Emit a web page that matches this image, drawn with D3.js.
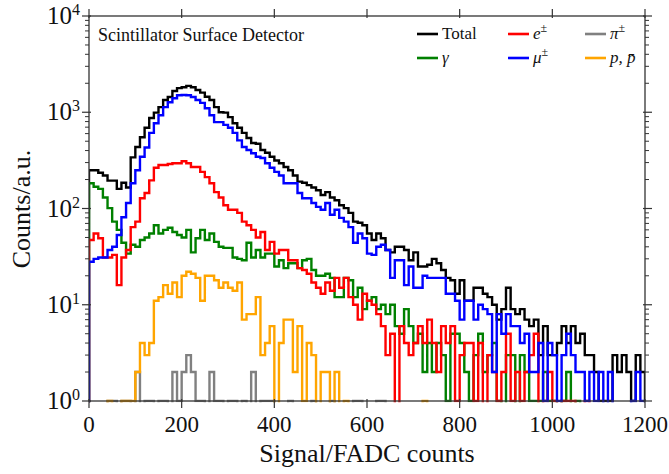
<!DOCTYPE html>
<html><head><meta charset="utf-8">
<script src="https://cdn.jsdelivr.net/npm/d3@7"></script>
<style>
body{margin:0;background:#fff}
svg{display:block}
text{font-family:"Liberation Serif","DejaVu Serif",serif;fill:#111}
</style>
</head><body>
<svg id="chart" width="669" height="474"></svg>
<script>
// ---------------- data ----------------
const binWidth = 10;           // FADC counts per bin
const binStart = 0;
const xTickValues = [0, 200, 400, 600, 800, 1000, 1200];
const yTickExponents = [0, 1, 2, 3, 4];
const titleText = "Scintillator Surface Detector";
const xLabel = "Signal/FADC counts";
const yLabel = "Counts/a.u.";

const total = [250,250,235,220,195,195,160,185,165,340,
  435,550,690,870,990,1130,1340,1440,1660,1780,
  1820,1880,1820,1700,1600,1450,1340,1130,1000,990,
  890,770,690,610,540,480,470,405,380,345,
  315,295,270,250,220,190,185,175,165,155,
  138,148,130,122,108,101,90,73,71,67,
  55,47,55,49,37,35,40,40,37,29,
  35,25,25,26,30,27,23,19,18,13,
  18,11,11,15,15,13,12,10,7,9,
  15,9,8,9,7,6,7,3,6,3,
  3,4,6,4,6,4,5,3,3,2,
  1,1,1,3,2,3,2,1,3,2];

const gamma = [183,168,160,130,101,73,60,44,34,42,
  40,47,50,55,67,55,60,63,57,53,
  50,60,35,49,60,47,55,45,40,39,
  39,31,30,29,44,31,37,31,34,34,
  25,29,24,27,27,24,29,30,23,20,
  20,21,19,12,12,19,18,12,15,9,
  11,12,9,10,8,10,6,5,9,6,
  4,5,2,4,2,4,3,1,5,5,
  4,2,1,3,5,2,3,4,1,0,
  3,3,0,3,2,1,1,1,2,1,
  1,0,1,2,0,1,0,0,0,0,
  0,0,0,0,0,0,0,0,0,0];

const electron = [47,55,49,31,31,33,16,31,37,64,
  73,128,145,196,265,283,283,290,295,295,
  310,295,270,270,240,212,183,148,130,108,
  97,97,90,73,67,60,50,57,37,45,
  34,37,37,29,29,24,23,21,17,15,
  13,17,14,19,15,19,12,10,7,13,
  11,10,8,6,3,5,0,6,4,3,
  4,6,4,7,4,2,6,4,6,1,
  3,4,4,1,4,0,3,2,1,2,
  5,1,2,1,2,3,5,0,1,2,
  1,0,1,1,1,0,0,1,0,0,
  0,0,0,0,0,0,0,0,0,0];

const muon = [28,30,31,31,37,40,53,81,114,183,
  250,345,430,610,770,930,1130,1270,1400,1500,
  1510,1500,1440,1340,1250,1100,930,790,790,740,
  690,610,510,435,405,375,345,335,295,265,
  240,220,183,183,183,145,128,128,114,104,
  97,114,86,97,80,73,64,44,55,49,
  34,33,40,42,37,19,29,29,16,25,
  15,15,20,19,19,19,19,13,13,11,
  7,11,11,7,10,9,8,2,8,5,
  8,6,6,4,5,2,2,4,1,4,
  3,1,3,5,3,2,2,1,2,1,
  2,0,2,0,0,0,0,1,2,1];

const pion = [0,0,0,0,1,1,0,1,1,0,
  2,0,1,1,0,1,1,0,2,1,
  2,3,2,1,1,0,2,1,1,0,
  1,1,0,1,0,2,0,1,1,1,
  0,0,0,1,0,0,0,0,1,0,
  0,0,1,0,0,0,0,1,1,0,
  0,0,1,1,0,0,0,0,0,0,
  0,0,0,0,0,0,0,0,0,0,
  0,0,0,0,0,0,0,0,0,0,
  0,0,0,0,0,0,0,0,0,0,
  0,0,0,0,0,0,0,0,0,0,
  0,0,0,0,0,0,0,0,0,0];

const proton = [0,0,0,0,1,0,0,1,1,1,
  2,4,3,4,11,12,16,13,17,12,
  20,22,21,19,11,20,20,18,15,17,
  15,14,17,7,8,8,12,3,4,6,
  0,4,7,7,2,6,1,4,3,0,
  2,2,0,2,0,1,0,0,0,0,
  0,0,0,0,0,0,0,0,0,0,
  0,0,1,0,0,0,0,0,0,0,
  0,0,0,0,0,0,0,0,0,0,
  0,0,0,0,0,0,0,0,0,0,
  0,0,0,0,0,0,0,0,0,0,
  0,0,0,0,0,0,0,0,0,0];

const seriesNames = ["Total", "γ", "e", "μ", "π", "p"];
const seriesColors = ["#000000", "#008000", "#ff0000", "#0000ff", "#808080", "#ffa500"];
const seriesData = [total, gamma, electron, muon, pion, proton];

// ---------------- layout ----------------
const svg = d3.select("#chart");
const L = 89, R = 645, T = 16, B = 401;
const x = d3.scaleLinear().domain([0, 1200]).range([L, R]);
const y = d3.scaleLog().domain([1, 1e4]).range([B, T]);
const axisColor = "#333";

svg.append("defs").append("clipPath").attr("id", "plotclip")
  .append("rect").attr("x", L).attr("y", T).attr("width", R - L).attr("height", B - T + 1.2);

const yPos = v => v > 0 ? y(v) : B + 30;

const line = d3.line()
  .x(d => x(d[0]))
  .y(d => yPos(d[1]))
  .curve(d3.curveStepAfter);

const plot = svg.append("g").attr("clip-path", "url(#plotclip)");
seriesData.forEach((arr, k) => {
  const pts = [[binStart, 0]];
  arr.forEach((v, i) => pts.push([binStart + i * binWidth, v]));
  pts.push([binStart + arr.length * binWidth, arr[arr.length - 1]]);
  pts.push([binStart + arr.length * binWidth, 0]);
  plot.append("path")
    .attr("d", line(pts))
    .attr("fill", "none")
    .attr("stroke", seriesColors[k])
    .attr("stroke-width", 2.4)
    .attr("stroke-linejoin", "miter");
});

// ---------------- axes ----------------
const ax = svg.append("g");
ax.append("rect").attr("x", L).attr("y", T).attr("width", R - L).attr("height", B - T)
  .attr("fill", "none").attr("stroke", axisColor).attr("stroke-width", 1.3);

// x ticks (bottom & top, outward)
xTickValues.forEach(v => {
  const px = x(v);
  ax.append("line").attr("x1", px).attr("x2", px).attr("y1", B - 2).attr("y2", B + 7)
    .attr("stroke", axisColor).attr("stroke-width", 1.2);
  ax.append("line").attr("x1", px).attr("x2", px).attr("y1", T + 2).attr("y2", T - 7)
    .attr("stroke", axisColor).attr("stroke-width", 1.2);
  ax.append("text").attr("x", px).attr("y", B + 31).attr("text-anchor", "middle")
    .attr("font-size", 23).text(v);
});

// y ticks (left & right, outward) major + minor
yTickExponents.forEach(e => {
  const v = Math.pow(10, e);
  const py = y(v);
  ax.append("line").attr("x1", L + 2).attr("x2", L - 7).attr("y1", py).attr("y2", py)
    .attr("stroke", axisColor).attr("stroke-width", 1.2);
  ax.append("line").attr("x1", R - 2).attr("x2", R + 7).attr("y1", py).attr("y2", py)
    .attr("stroke", axisColor).attr("stroke-width", 1.2);
  const t = ax.append("text").attr("x", 80).attr("y", py + 8).attr("text-anchor", "end")
    .attr("font-size", 25);
  t.append("tspan").text("10");
  t.append("tspan").attr("font-size", 16).attr("dy", -9).text(e);
  if (e < 4) {
    for (let m = 2; m <= 9; m++) {
      const pm = y(m * v);
      ax.append("line").attr("x1", L).attr("x2", L - 4).attr("y1", pm).attr("y2", pm)
        .attr("stroke", axisColor).attr("stroke-width", 1);
      ax.append("line").attr("x1", R).attr("x2", R + 4).attr("y1", pm).attr("y2", pm)
        .attr("stroke", axisColor).attr("stroke-width", 1);
    }
  }
});

// axis labels
svg.append("text").attr("x", 367).attr("y", 462).attr("text-anchor", "middle")
  .attr("font-size", 26).text(xLabel);
svg.append("text").attr("transform", "translate(30,209) rotate(-90)")
  .attr("text-anchor", "middle").attr("font-size", 26).text(yLabel);

// title
svg.append("text").attr("x", 98).attr("y", 41).attr("font-size", 18).text(titleText);

// ---------------- legend ----------------
const legendItems = [
  {k: 0, col: 0, row: 0}, {k: 1, col: 0, row: 1},
  {k: 2, col: 1, row: 0}, {k: 3, col: 1, row: 1},
  {k: 4, col: 2, row: 0}, {k: 5, col: 2, row: 1}
];
const colX = [417, 508, 585];
const rowY = [34, 58];
const lg = svg.append("g");
legendItems.forEach(it => {
  const lx = colX[it.col], ly = rowY[it.row];
  lg.append("line").attr("x1", lx).attr("x2", lx + 21).attr("y1", ly).attr("y2", ly)
    .attr("stroke", seriesColors[it.k]).attr("stroke-width", 2.6);
  const t = lg.append("text").attr("x", lx + 25).attr("y", ly + 5).attr("font-size", 17);
  const name = seriesNames[it.k];
  if (name === "Total") {
    t.text("Total");
  } else if (name === "γ") {
    t.append("tspan").attr("font-style", "italic").text("γ");
  } else if (name === "p") {
    t.append("tspan").attr("font-style", "italic").text("p, p\u0304");
  } else {
    t.append("tspan").attr("font-style", "italic").text(name === "e" ? "e" : name === "μ" ? "μ" : "π");
    t.append("tspan").attr("font-size", 12).attr("dy", -7).text("±");
  }
});
</script>
</body></html>
